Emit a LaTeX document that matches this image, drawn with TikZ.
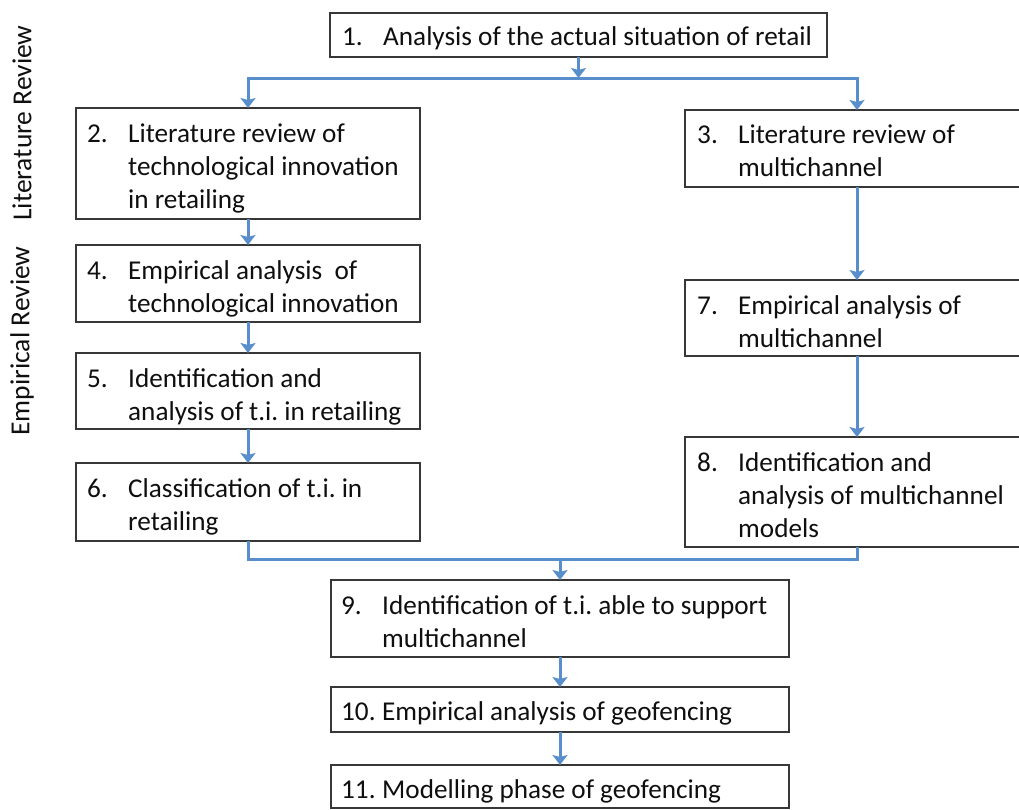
\documentclass[tikz,border=0pt]{standalone}
\usepackage{fontspec}
\setmainfont{Carlito}
\usetikzlibrary{arrows.meta,calc}

\definecolor{flowblue}{RGB}{88,142,203}
\definecolor{boxline}{RGB}{55,55,55}
\definecolor{inktext}{RGB}{15,15,15}

% numbered entry: number column, then the wrapped lines of the step
\newcommand{\stepentry}[2]{%
  \begin{tabular}[t]{@{}p{41pt}@{}l@{}}#1 & #2\end{tabular}}

\begin{document}
\frenchspacing
\begin{tikzpicture}[x=1pt,y=-1pt,
  stepbox/.style={draw=boxline, line width=1.8pt, fill=white, inner sep=0pt,
    outer sep=0pt, anchor=north west, minimum width=#1},
  stepbox/.default=344pt,
  steptext/.style={inner sep=0pt, anchor=base west, text=inktext,
    font=\fontsize{27.2}{33}\selectfont},
  sidelabel/.style={rotate=90, text=inktext, inner sep=0pt,
    font=\fontsize{27.5}{30}\selectfont},
  flow/.style={draw=flowblue, line width=3pt},
  flowarrow/.style={flow, -{Stealth[length=10pt,width=15pt,inset=2pt]}}
]
\useasboundingbox (0,0) rectangle (1019,809);
\clip (0,0) rectangle (1019,809);
\fill[white] (0,0) rectangle (1019,809);

% side labels
\node[sidelabel] (litrev) at (22,123) {Literature Review};
\node[sidelabel] (emprev) at (22,341) {Empirical Review};

% boxes
\node[stepbox=497pt, minimum height=44pt]  (b1)  at (330,13)  {};
\node[stepbox, minimum height=111pt]       (b2)  at (76,108)  {};
\node[stepbox, minimum height=77pt]        (b3)  at (685,110) {};
\node[stepbox, minimum height=77pt]        (b4)  at (76,245)  {};
\node[stepbox, minimum height=76pt]        (b5)  at (76,353)  {};
\node[stepbox, minimum height=78pt]        (b6)  at (76,463)  {};
\node[stepbox, minimum height=76pt]        (b7)  at (685,280) {};
\node[stepbox, minimum height=110pt]       (b8)  at (685,437) {};
\node[stepbox=458pt, minimum height=77pt]  (b9)  at (331,580) {};
\node[stepbox=458pt, minimum height=45pt]  (b10) at (331,687) {};
\node[stepbox=458pt, minimum height=43pt]  (b11) at (331,765) {};

% box texts
\node[steptext] (t1) at ($(b1.north west)+(12,32)$)
  {\stepentry{1.}{Analysis of the actual situation of retail}};
\node[steptext] (t2) at ($(b2.north west)+(11,34)$)
  {\stepentry{2.}{Literature review of\\ & technological innovation\\ & in retailing}};
\node[steptext] (t3) at ($(b3.north west)+(12,33)$)
  {\stepentry{3.}{Literature review of\\ & multichannel}};
\node[steptext] (t4) at ($(b4.north west)+(11,34)$)
  {\stepentry{4.}{Empirical analysis\ \ of\\ & technological innovation}};
\node[steptext] (t5) at ($(b5.north west)+(11,34)$)
  {\stepentry{5.}{Identification and\\ & analysis of t.i. in retailing}};
\node[steptext] (t6) at ($(b6.north west)+(11,34)$)
  {\stepentry{6.}{Classification of t.i. in\\ & retailing}};
\node[steptext] (t7) at ($(b7.north west)+(12,34)$)
  {\stepentry{7.}{Empirical analysis of\\ & multichannel}};
\node[steptext] (t8) at ($(b8.north west)+(12,34)$)
  {\stepentry{8.}{Identification and\\ & analysis of multichannel\\ & models}};
\node[steptext] (t9) at ($(b9.north west)+(10,34)$)
  {\stepentry{9.}{Identification of t.i. able to support\\ & multichannel}};
\node[steptext] (t10) at ($(b10.north west)+(10,33)$)
  {\stepentry{10.}{Empirical analysis of geofencing}};
\node[steptext] (t11) at ($(b11.north west)+(10,33)$)
  {\stepentry{11.}{Modelling phase of geofencing}};

% junction points of the connectors
\coordinate (split) at (b1.south |- 0,78);
\coordinate (merge) at (b9.north |- 0,559);

% connectors
\draw[flowarrow] (b1.south) -- (split);
\draw[flowarrow] (split) -| (b2.north);
\draw[flowarrow] (split) -| (b3.north);
\draw[flowarrow] (b2.south) -- (b4.north);
\draw[flowarrow] (b4.south) -- (b5.north);
\draw[flowarrow] (b5.south) -- (b6.north);
\draw[flowarrow] (b3.south) -- (b7.north);
\draw[flowarrow] (b7.south) -- (b8.north);
\draw[flow] (b6.south) |- (merge);
\draw[flow] (b8.south) |- (merge);
\draw[flowarrow] (merge) -- (b9.north);
\draw[flowarrow] (b9.south) -- (b10.north);
\draw[flowarrow] (b10.south) -- (b11.north);
\end{tikzpicture}
\end{document}
